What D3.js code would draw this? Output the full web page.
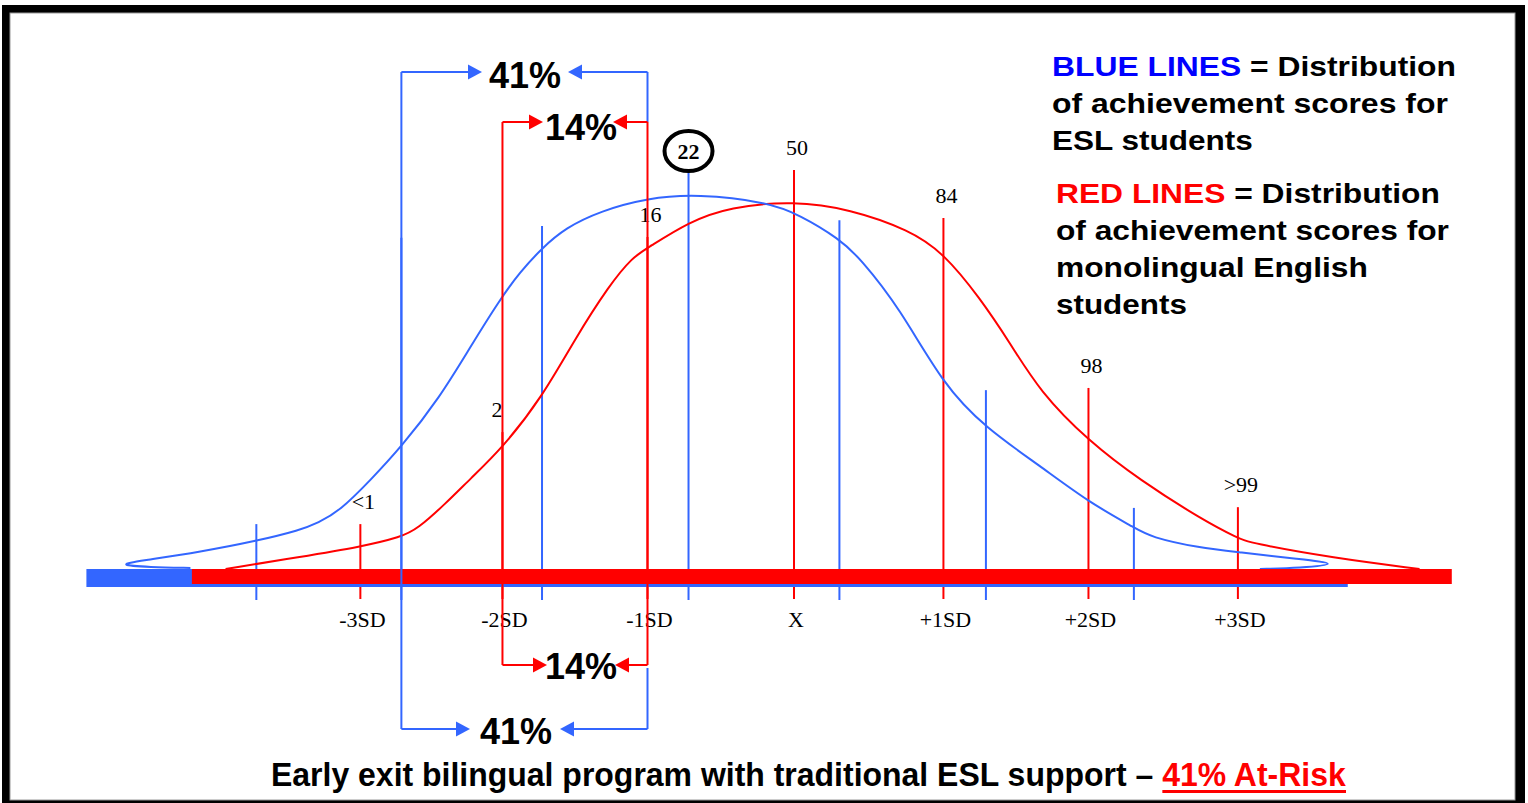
<!DOCTYPE html>
<html><head><meta charset="utf-8">
<script src="https://cdn.jsdelivr.net/npm/d3@7"></script>
<style>body{margin:0;background:#fff} svg{display:block}</style>
</head><body>
<svg id="c" width="1528" height="803"></svg>
<script>
// ---------------- data ----------------
const sdLabels = ["-3SD","-2SD","-1SD","X","+1SD","+2SD","+3SD"];
const redMarkZ = [-2.96,-1.99,-1.00,0,1.02,2.01,3.03];
const redMarkH = [0.122,0.372,0.902,1.084,0.954,0.492,0.168];
const percentileLabels = ["<1","2","16","50","84","98",">99"];
const blueMarkZ = [-3.67,-2.68,-1.72,-0.72,0.31,1.31,2.32];
const blueMarkH = [0.122,0.90,0.932,1.095,0.948,0.486,0.166];
const blueMeanLabel = "22";
const blueAxisZ = [-4.83, 3.78];
const redAxisZ = [-4.11, 4.49];
const redCurveZ = [-3.88,-3.37,-2.96,-2.68,-2.57,-2.38,-2.21,-1.99,-1.72,-1.50,-1.26,-1.10,-1.00,-0.72,-0.44,0,0.38,0.79,1.02,1.27,1.47,1.68,2.01,2.36,2.79,3.03,3.11,3.68,4.27];
const redCurveH = [0,0.033,0.060,0.087,0.109,0.177,0.245,0.329,0.467,0.622,0.772,0.848,0.872,0.943,0.984,1.0,0.978,0.921,0.859,0.736,0.617,0.481,0.348,0.242,0.133,0.084,0.071,0.030,0];
const blueCurveZ = [-4.12,-4.40,-4.62,-4.46,-4.06,-3.67,-3.37,-3.25,-3.10,-2.89,-2.68,-2.42,-2.21,-2.01,-1.87,-1.72,-1.56,-1.32,-1.00,-0.66,-0.18,0.04,0.31,0.45,0.72,1.02,1.31,1.68,2.01,2.33,2.43,2.77,3.03,3.45,3.74,3.45,3.18];
const blueCurveH = [0.003,0.005,0.011,0.022,0.046,0.076,0.106,0.125,0.158,0.242,0.332,0.465,0.603,0.731,0.807,0.872,0.927,0.973,1.008,1.019,0.997,0.962,0.897,0.845,0.71,0.50,0.383,0.280,0.182,0.111,0.087,0.057,0.046,0.027,0.014,0.003,0];
const bracketPct = ["41%","14%"];
const legendBlue = ["BLUE LINES"," = Distribution","of achievement scores for","ESL students"];
const legendRed = ["RED LINES"," = Distribution","of achievement scores for","monolingual English","students"];
const titleMain = "Early exit bilingual program with traditional ESL support \u2013 ";
const titleRisk = "41% At-Risk";

// ---------------- setup ----------------
const BLUE = "#3366ff", RED = "#ff0000";
const SANS = "'Liberation Sans', Arial, sans-serif";
const SERIF = "'Liberation Serif', 'Times New Roman', serif";
const svg = d3.select("#c");
const x = d3.scaleLinear().domain([-3,3]).range([794-3*146.5, 794+3*146.5]);
const y = d3.scaleLinear().domain([0,1]).range([569,201]);

// frame
svg.append("rect").attr("x",0).attr("y",0).attr("width",1528).attr("height",803).attr("fill","#fff");
svg.append("rect").attr("x",2).attr("y",5).attr("width",1523).attr("height",798).attr("fill","#000");
svg.append("rect").attr("x",10).attr("y",13).attr("width",1505).attr("height",787).attr("fill","#fff").attr("stroke","#999").attr("stroke-width",1);

function fit(sel, x0, w){
  const bw = sel.node().getComputedTextLength();
  const k = w / bw;
  sel.attr("transform", `translate(${x0},0) scale(${k},1) translate(${-x0},0)`);
  return k;
}

// marker lines
const gM = svg.append("g");
blueMarkZ.forEach((z,i)=>{
  gM.append("line").attr("x1",x(z)).attr("x2",x(z)).attr("y1",y(blueMarkH[i])).attr("y2",600)
    .attr("stroke",BLUE).attr("stroke-width",2);
});
redMarkZ.forEach((z,i)=>{
  gM.append("line").attr("x1",x(z)).attr("x2",x(z)).attr("y1",y(redMarkH[i])).attr("y2",599)
    .attr("stroke",RED).attr("stroke-width",2);
});

// curves
const line = d3.line().x(d=>x(d[0])).y(d=>y(d[1])).curve(d3.curveBasis);
svg.append("path").attr("d",line(redCurveZ.map((z,i)=>[z,redCurveH[i]])))
  .attr("fill","none").attr("stroke",RED).attr("stroke-width",2);
svg.append("path").attr("d",line(blueCurveZ.map((z,i)=>[z,blueCurveH[i]])))
  .attr("fill","none").attr("stroke",BLUE).attr("stroke-width",2);

// axis bars
svg.append("rect").attr("x",x(blueAxisZ[0])).attr("y",y(0)).attr("width",x(blueAxisZ[1])-x(blueAxisZ[0])).attr("height",18).attr("fill",BLUE);
svg.append("rect").attr("x",x(redAxisZ[0])).attr("y",y(0)).attr("width",x(redAxisZ[1])-x(redAxisZ[0])).attr("height",15).attr("fill",RED);

// SD labels
redMarkZ.forEach((z,i)=>{
  svg.append("text").attr("x",x(z)+2).attr("y",627).attr("text-anchor","middle")
    .attr("font-family",SERIF).attr("font-size",22).text(sdLabels[i]);
});
// percentile labels
redMarkZ.forEach((z,i)=>{
  svg.append("text").attr("x",x(z)+(i===1?0:3)).attr("y",y(redMarkH[i])-15)
    .attr("text-anchor", i===1 ? "end" : "middle")
    .attr("font-family",SERIF).attr("font-size",22).text(percentileLabels[i]);
});
// circled blue mean label
{
  const cx = x(blueMarkZ[3]), cy = y(blueMarkH[3]) - 15;
  svg.append("ellipse").attr("cx",cx).attr("cy",cy).attr("rx",24).attr("ry",20)
    .attr("fill","#fff").attr("stroke","#000").attr("stroke-width",4);
  svg.append("text").attr("x",cx).attr("y",cy+7.5).attr("text-anchor","middle")
    .attr("font-family",SERIF).attr("font-weight","bold").attr("font-size",22).text(blueMeanLabel);
}

// brackets
function arrowHead(g, tipX, yy, dir, color){ // dir=+1 pointing right
  const L = 14, H = 7.5;
  g.append("path").attr("d",`M${tipX},${yy} L${tipX-dir*L},${yy-H} L${tipX-dir*L},${yy+H} Z`).attr("fill",color);
}
function hseg(g,x1,x2,yy,color){ g.append("line").attr("x1",x1).attr("x2",x2).attr("y1",yy).attr("y2",yy).attr("stroke",color).attr("stroke-width",2); }
function vseg(g,xx,y1,y2,color){ g.append("line").attr("x1",xx).attr("x2",xx).attr("y1",y1).attr("y2",y2).attr("stroke",color).attr("stroke-width",2); }
const gB = svg.append("g");
{
  // outer (blue) bracket: from blue -2SD marker to red -1SD marker
  const xl = x(blueMarkZ[1]), xr = x(redMarkZ[2]);
  vseg(gB, xl, 72, 729, BLUE);
  vseg(gB, xr, 72, 122, BLUE);
  vseg(gB, xr, 668, 729, BLUE);
  [[72,525,482,568,88],[729,516,470,560,744]].forEach(([yy,tx,tl,tr,tb])=>{
    hseg(gB, xl, tl-10, yy, BLUE); arrowHead(gB, tl, yy, 1, BLUE);
    hseg(gB, xr, tr+10, yy, BLUE); arrowHead(gB, tr, yy, -1, BLUE);
    gB.append("text").attr("x",tx).attr("y",tb).attr("text-anchor","middle")
      .attr("font-family",SANS).attr("font-weight","bold").attr("font-size",36).text(bracketPct[0]);
  });
  // inner (red) bracket: red -2SD to red -1SD
  const rl = x(redMarkZ[1]), rr = x(redMarkZ[2]);
  vseg(gB, rl, 122, 665, RED);
  vseg(gB, rr, 122, 665, RED);
  [[122,581,543,613,140],[665,581,547,615,679]].forEach(([yy,tx,tl,tr,tb])=>{
    hseg(gB, rl, tl-10, yy, RED); arrowHead(gB, tl, yy, 1, RED);
    hseg(gB, rr, tr+10, yy, RED); arrowHead(gB, tr, yy, -1, RED);
    gB.append("text").attr("x",tx).attr("y",tb).attr("text-anchor","middle")
      .attr("font-family",SANS).attr("font-weight","bold").attr("font-size",36).text(bracketPct[1]);
  });
}

// legend
function legendLines(lines, color, x0, base, widths){
  const t0 = svg.append("text").attr("x",x0).attr("y",base).attr("font-family",SANS).attr("font-weight","bold").attr("font-size",28);
  t0.append("tspan").attr("fill",color).text(lines[0]);
  t0.append("tspan").attr("fill","#000").text(lines[1]);
  fit(t0, x0, widths[0]);
  lines.slice(2).forEach((s,i)=>{
    const t = svg.append("text").attr("x",x0).attr("y",base+37*(i+1)).attr("font-family",SANS)
      .attr("font-weight","bold").attr("font-size",28).attr("fill","#000").text(s);
    fit(t, x0, widths[i+1]);
  });
}
legendLines(legendBlue, "#0000ff", 1052, 76, [404,396,201]);
legendLines(legendRed, RED, 1056, 203, [384,393,312,131]);

// title
{
  const x0 = 271, W = 1075;
  const t = svg.append("text").attr("x",x0).attr("y",786).attr("font-family",SANS).attr("font-weight","bold").attr("font-size",33);
  t.append("tspan").attr("fill","#000").text(titleMain);
  t.append("tspan").attr("fill",RED).text(titleRisk);
  const node = t.node();
  const off = node.getSubStringLength(0, titleMain.length);
  const rw = node.getSubStringLength(titleMain.length, titleRisk.length);
  const k = fit(t, x0, W);
  svg.append("rect").attr("x",x0+off*k).attr("y",790).attr("width",rw*k).attr("height",3).attr("fill",RED);
}
</script>
</body></html>
